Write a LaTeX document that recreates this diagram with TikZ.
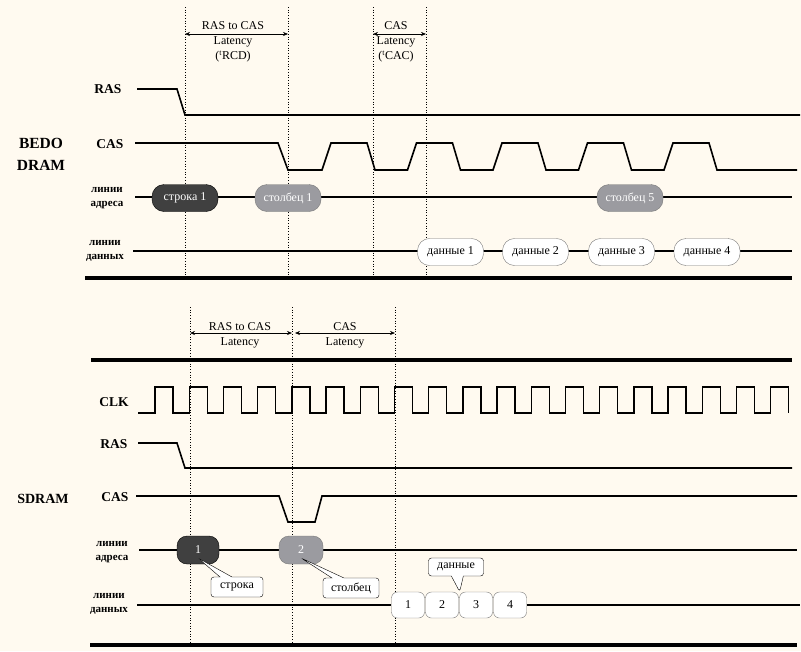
\documentclass[tikz,border=0pt]{standalone}
\usepackage{fontspec}
\setmainfont{Liberation Serif}
\usepackage{xcolor}
\usetikzlibrary{arrows.meta,shapes.callouts}
\definecolor{paper}{RGB}{255,250,240}
\definecolor{darkpill}{RGB}{64,64,64}
\definecolor{greypill}{RGB}{155,155,160}
\definecolor{pillrim}{RGB}{120,120,120}
\tikzset{
  sig/.style={line width=1.6pt, line join=miter},
  clk/.style={line width=1.4pt},
  rule/.style={line width=3.5pt},
  guide/.style={dotted, line width=0.7pt},
  span/.style={{Stealth[length=5pt,width=4pt]}-{Stealth[length=5pt,width=4pt]}, line width=0.6pt},
  siglbl/.style={font=\bfseries\fontsize{13.5}{15}\selectfont},
  buslbl/.style={font=\bfseries\fontsize{11}{14.5}\selectfont, align=center},
  pill/.style={rounded corners=12pt, minimum width=66pt, minimum height=27pt, inner sep=0pt},
  rowpill/.style={pill, fill=darkpill, draw=black, text=white},
  colpill/.style={pill, fill=greypill, draw=pillrim, text=white},
  datapill/.style={pill, fill=white, draw=pillrim},
  cell/.style={rounded corners=6pt, minimum width=33pt, minimum height=26pt, inner sep=0pt, fill=white, draw=pillrim},
  tip/.style={rectangle callout, rounded corners=3pt, draw, fill=white, inner sep=2pt, callout pointer width=12pt}
}
\begin{document}
\begin{tikzpicture}[x=1pt, y=-1pt, font=\fontsize{12}{15}\selectfont]
  \fill[paper] (0,0) rectangle (801,651);
  \useasboundingbox (0,0) rectangle (801,651);

  \foreach \g/\x in {ga/185, gb/288, gc/373, gd/426} {
    \coordinate (\g) at (\x,34);
    \draw[guide] (\x,7) -- (\x,278);
  }
  \draw[span] (ga) -- (gb);
  \draw[span] (gc) -- (gd);
  \node[align=center, inner sep=0pt] (rcd) at (233,42) {RAS to CAS\\Latency\\(\textsuperscript{t}RCD)};
  \node[align=center, inner sep=0pt] (cac) at (396,42) {CAS\\Latency\\(\textsuperscript{t}CAC)};

  \node[siglbl] (ras1) at (108,89) {RAS};
  \draw[sig] (137,89) -- (177,89) -- (185,115) -- (800,115);
  \node[siglbl] (cas1) at (110,144) {CAS};
  \draw[sig] (135,143) -- (278,143) -- (288,170)
    \foreach \k in {0,...,4} { -- ({322+85.5*\k},170) -- ({331+85.5*\k},143) -- ({367+85.5*\k},143) -- ({375+85.5*\k},170) }
    -- (797,170);
  \node[font=\bfseries\fontsize{15.5}{22}\selectfont, align=center, inner sep=0pt] (bedo) at (41,154) {BEDO\\DRAM};

  \node[buslbl] (adr1) at (107,198) {линии\\адреса};
  \draw[sig] (135,197) -- (792,197);
  \node[rowpill] (row1) at (185,198) {строка 1};
  \node[colpill] (col1) at (288,198) {столбец 1};
  \node[colpill] (col5) at (630,198) {столбец 5};

  \node[buslbl] (dat1) at (105,251) {линии\\данных};
  \draw[sig] (133,251) -- (792,251);
  \foreach \n/\x in {1/450.5, 2/535.5, 3/621.5, 4/707} {
    \node[datapill] (data\n) at (\x,252) {данные \n};
  }
  \draw[rule] (85,278) -- (792,278);

  \foreach \g/\x in {ha/190, hb/292, hc/395} {
    \coordinate (\g) at (\x,333);
    \draw[guide] (\x,307) -- (\x,645);
  }
  \draw[span] (ha) -- (hb);
  \draw[span] ([xshift=3pt]hb) -- (hc);
  \node[align=center, inner sep=0pt] (rc2) at (240,335) {RAS to CAS\\Latency};
  \node[align=center, inner sep=0pt] (cl2) at (345,335) {CAS\\Latency};
  \draw[rule] (91,360) -- (792,360);

  \node[siglbl] (clk) at (114,402) {CLK};
  \draw[clk] (138,413)
    \foreach \k in {0,...,18} { -- ({155+34.2*\k},413) -- ({155+34.2*\k},387) -- ({173+34.2*\k},387) -- ({173+34.2*\k},413) };
  \node[siglbl] (ras2) at (114,444) {RAS};
  \draw[sig] (138,443) -- (177,443) -- (185,468) -- (792,468);

  \node[font=\bfseries\fontsize{14}{15}\selectfont] (sdram) at (43,499) {SDRAM};
  \node[siglbl] (cas2) at (115,497) {CAS};
  \draw[sig] (136,496) -- (279,496) -- (288,522) -- (315,522) -- (322,496) -- (797,496);

  \node[buslbl] (adr2) at (112,552) {линии\\адреса};
  \draw[sig] (139,550) -- (797,550);
  \node[rowpill, rounded corners=10pt, minimum width=42pt, minimum height=28pt] (sr) at (198,550) {1};
  \node[colpill, rounded corners=10pt, minimum width=44pt, minimum height=28pt] (sc) at (301,550) {2};
  \node[tip, minimum width=52pt, minimum height=20pt, callout absolute pointer={([yshift=-8pt]sr.center)}] (srow) at (237,587) {строка};
  \node[tip, minimum width=56pt, minimum height=20pt, callout absolute pointer={([yshift=-8pt]sc.center)}] (scol) at (351,588) {столбец};

  \node[buslbl] (dat2) at (109,604) {линии\\данных};
  \foreach \n/\x in {1/408, 2/442, 3/476, 4/510} {
    \node[cell] (d\n) at (\x,605) {\n};
  }
  \coordinate (dl) at (137,605);
  \coordinate (dr) at (800,605);
  \draw[sig] (dl) -- (d1.west);
  \draw[sig] (d4.east) -- (dr);
  \node[tip, minimum width=55pt, minimum height=18pt, inner sep=1pt, callout absolute pointer={([xshift=1pt]d2.north east)}] (sdat) at (456,567) {данные};
  \draw[rule] (90,645) -- (797,645);
\end{tikzpicture}
\end{document}
